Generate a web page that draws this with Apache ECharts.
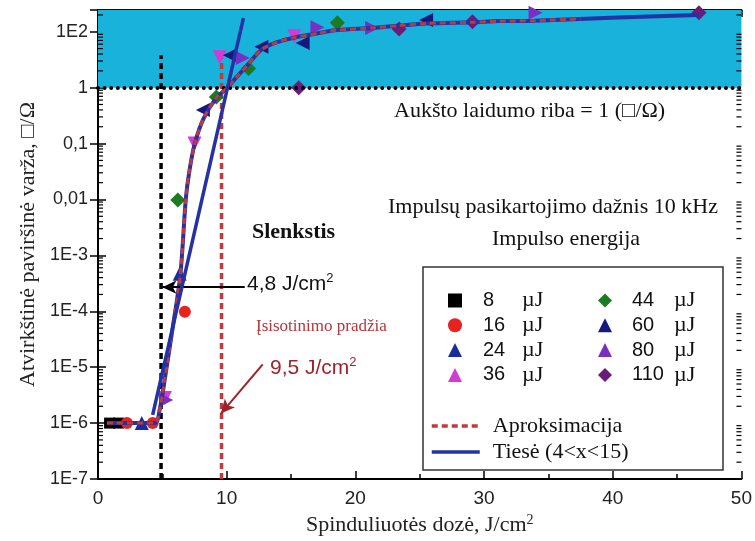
<!DOCTYPE html>
<html>
<head>
<meta charset="utf-8">
<script src="https://cdn.jsdelivr.net/npm/echarts@6/dist/echarts.min.js"></script>
<style>html,body{margin:0;padding:0;background:#fff;}#c{width:755px;height:541px;}</style>
</head>
<body>
<div id="c"></div>
<script>
// ---- data (the tick labelled "1E2" sits at value 10 of the drawn scale) ----
const TICK_LABELS = ['1E-7','1E-6','1E-5','1E-4','1E-3','0,01','0,1','1','1E2'];
const X_TICKS = [0,10,20,30,40,50];
const Y_MIN = 1e-7, Y_MAX = 24.5;

const s8   = [[0.9,1e-6],[1.6,1e-6]];
const s16  = [[2.25,1e-6],[4.25,1e-6],[6.75,9.8e-5]];
const s24  = [[3.4,1e-6],[6.35,4.7e-4]];
const s36  = [[5.2,2.8e-6],[7.5,0.10],[9.45,3.5],[15.25,8.3]];
const s44  = [[6.2,0.0098],[9.2,0.68],[11.7,2.2],[18.6,14.5]];
const s60  = [[8.15,0.40],[10.25,3.8],[12.7,5.4],[15.9,6.3],[25.5,16.2]];
const s80  = [[5.3,2.6e-6],[11.25,3.4],[17.05,12.0],[21.3,11.7],[34.0,21.9]];
const s110 = [[15.6,1.0],[23.4,11.2],[29.1,15.1],[46.7,21.9]];

const fitX = [0.7,4.4,4.8,5.2,5.8,6.4,6.82,7.1,7.52,8.2,9.2,10.05,10.8,11.6,12.7,14,15.3,17,18.6,21.3,23.4,25.5,29.1,31.2,33.9,39.9,46.7];
const fitY = [1e-6,1e-6,1.78e-6,6.3e-6,5e-5,4.5e-4,0.01,0.032,0.1,0.28,0.66,1.0,1.58,2.5,4.8,6.6,7.9,9.3,10.7,11.7,12.9,14.1,14.8,15.5,15.8,17.8,20];
const aprX = [0.7,4.4,4.8,5.2,5.8,6.4,6.82,7.1,7.52,8.2,9.2,10.05,10.8,11.6,12.7,14,15.3,17,18.6,21.3,23.4,25.5,29.1,31.2,33.9,37.5];
const aprY = [1e-6,1e-6,1.78e-6,6.3e-6,5e-5,4.5e-4,0.01,0.032,0.1,0.28,0.66,1.0,1.58,2.5,4.8,6.6,7.9,9.3,10.7,11.7,12.9,14.1,14.8,15.5,15.8,17.0];
const lineX = [4.25, 11.3];
const lineY = [1.4e-6, 17.5];
const thrLine = [[4.9,1e-7],[4.9,3.8]];
const satLine = [[9.6,1e-7],[9.6,3.5]];
const arrowBlack = [[11.4,2.7e-4],[5.0,2.7e-4]];
const arrowRed = [[12.8,1.12e-5],[9.55,1.48e-6]];

// ---- style helpers ----
const SERIF = 'Liberation Serif', SANS = 'Liberation Sans';
const zip = (xs, ys) => xs.map((x,i)=>[x, ys[i]]);
const minorVals = [];
for (let d=-7; d<=1; d++) for (let k=2; k<=9; k++) { const v=k*Math.pow(10,d); if (v<Y_MAX) minorVals.push([0,v]); }

function scatter(name, data, symbol, color, size, rot) {
  return { type:'scatter', name, data, symbol, symbolSize:size, symbolRotate:rot||0,
    itemStyle:{color, opacity:1}, z:3, silent:true };
}
function legendFmt() {
  return function(name){ const n=name.split(' ')[0]; return '{g| }{n|'+n+'}{u|µJ}'; };
}
function legendRich(gap, nw){
  return { g:{width:gap}, n:{fontFamily:SANS, fontSize:20, width:nw, color:'#111'},
    u:{fontFamily:SERIF, fontSize:22, color:'#111'} };
}

const chart = echarts.init(document.getElementById('c'), null, {renderer:'canvas'});
const axisCommon = {
  axisLine:{show:true, lineStyle:{color:'#000', width:2}},
  splitLine:{show:false}
};
chart.setOption({
  animation:false,
  backgroundColor:'#fff',
  grid:{left:98, right:12, top:10, bottom:62, containLabel:false},
  xAxis:[
    Object.assign({type:'value', min:0, max:50, interval:10, position:'bottom',
      axisTick:{show:true, inside:true, length:8, lineStyle:{color:'#000', width:1.5}},
      minorTick:{show:true, splitNumber:2, length:5, lineStyle:{color:'#000', width:1.5}},
      axisLabel:{fontFamily:SANS, fontSize:19, color:'#222', margin:10,
        formatter:v=>X_TICKS.includes(v)?String(v):''},
      name:'{a|Spinduliuotės dozė, J/cm}{s|2}', nameLocation:'middle', nameGap:34,
      nameTextStyle:{rich:{a:{fontFamily:SERIF, fontSize:22, color:'#222'}, s:{fontFamily:SERIF, fontSize:14, color:'#222', padding:[0,0,10,0]}}}
    }, axisCommon),
    Object.assign({type:'value', min:0, max:50, interval:5, position:'top',
      axisTick:{show:true, inside:true, length:7, lineStyle:{color:'#000', width:1.5}},
      axisLabel:{show:false}}, axisCommon)
  ],
  yAxis:[
    Object.assign({type:'log', logBase:10, min:Y_MIN, max:Y_MAX, interval:1, position:'left',
      axisTick:{show:true, inside:true, length:8, lineStyle:{color:'#000', width:1.5}},
      axisLabel:{fontFamily:SANS, fontSize:18, color:'#222', margin:10,
        formatter:function(v){ const l=Math.log10(v); const r=Math.round(l); if (Math.abs(l-r)>1e-6) return ''; return TICK_LABELS[r+7]||''; }},
      name:'Atvirkštinė paviršinė varža, □/Ω', nameLocation:'middle', nameGap:58,
      nameTextStyle:{fontFamily:SERIF, fontSize:22, color:'#222'}
    }, axisCommon),
    Object.assign({type:'log', logBase:10, min:Y_MIN, max:Y_MAX, interval:1, position:'right',
      axisTick:{show:true, inside:true, length:8, lineStyle:{color:'#000', width:1.5}},
      axisLabel:{show:false}}, axisCommon)
  ],
  legend:[
    {data:['8 µJ','16 µJ','24 µJ','36 µJ'], orient:'vertical', left:443, top:284.5, itemWidth:14, itemHeight:14, itemGap:2.8,
      formatter:legendFmt(), textStyle:{rich:legendRich(16,39)}, selectedMode:false},
    {data:['44 µJ','60 µJ','80 µJ','110 µJ'], orient:'vertical', left:593, top:284.5, itemWidth:14, itemHeight:14, itemGap:2.8,
      formatter:legendFmt(), textStyle:{rich:legendRich(15,42)}, selectedMode:false},
    {data:['Aproksimacija','Tiesė (4<x<15)'], orient:'vertical', left:425, top:410, itemWidth:48, itemHeight:14, itemGap:4,
      itemStyle:{opacity:0}, lineStyle:{width:3.5},
      formatter:n=>'{g| }{t|'+n+'}', textStyle:{rich:{g:{width:8}, t:{fontFamily:SERIF, fontSize:22, color:'#111'}}}, selectedMode:false}
  ],
  graphic:[
    {type:'rect', shape:{x:423, y:267, width:300, height:203}, style:{fill:null, stroke:'#333', lineWidth:1.5}, z:10},
    {type:'text', x:252, y:232, style:{text:'Slenkstis', fontFamily:SERIF, fontSize:22, fontWeight:'bold', fill:'#111', verticalAlign:'middle'}, z:10},
    {type:'text', x:247, y:284, style:{text:'{a|4,8 J/cm}{s|2}', verticalAlign:'middle', rich:{a:{fontFamily:SANS, fontSize:21, fill:'#111'}, s:{fontFamily:SANS, fontSize:13, fill:'#111', padding:[0,0,12,0]}}}, z:10},
    {type:'text', x:256, y:327, style:{text:'Įsisotinimo pradžia', fontFamily:SERIF, fontSize:17, fill:'#b3373d', verticalAlign:'middle'}, z:10},
    {type:'text', x:270, y:368, style:{text:'{a|9,5 J/cm}{s|2}', verticalAlign:'middle', rich:{a:{fontFamily:SANS, fontSize:21, fill:'#a0232b'}, s:{fontFamily:SANS, fontSize:13, fill:'#a0232b', padding:[0,0,12,0]}}}, z:10},
    {type:'text', x:394, y:111, style:{text:'Aukšto laidumo riba = 1 (□/Ω)', fontFamily:SERIF, fontSize:22, fill:'#111', verticalAlign:'middle'}, z:10},
    {type:'text', x:388, y:207, style:{text:'Impulsų pasikartojimo dažnis 10 kHz', fontFamily:SERIF, fontSize:22, fill:'#111', verticalAlign:'middle'}, z:10},
    {type:'text', x:566, y:239, style:{text:'Impulso energija', fontFamily:SERIF, fontSize:22, fill:'#111', align:'center', verticalAlign:'middle'}, z:10}
  ],
  series:[
    {type:'line', name:'band', data:[], silent:true, z:1,
      markArea:{silent:true, itemStyle:{color:'#18b2db', opacity:1}, data:[[{yAxis:1},{yAxis:Y_MAX}]]},
      markLine:{silent:true, symbol:['none','none'], label:{show:false},
        lineStyle:{color:'#000', width:4, type:[0.01,6.6], cap:'round'}, data:[{yAxis:1}]}},
    {type:'custom', name:'minorTicks', silent:true, clip:false, z:6, data:minorVals, encode:{x:0,y:1},
      renderItem:function(params, api){
        const v=api.value(1); const l=api.coord([0,v]); const r=api.coord([50,v]);
        return {type:'group', children:[
          {type:'line', shape:{x1:l[0], y1:l[1], x2:l[0]+5, y2:l[1]}, style:{stroke:'#000', lineWidth:1.2}},
          {type:'line', shape:{x1:r[0]-5, y1:r[1], x2:r[0], y2:r[1]}, style:{stroke:'#000', lineWidth:1.2}}
        ]};
      }},
    {type:'line', name:'slenkstis', data:thrLine, symbol:'none', silent:true, z:2,
      lineStyle:{color:'#000', width:3.5, type:[6,4]}},
    {type:'line', name:'isisotinimas', data:satLine, symbol:'none', silent:true, z:2,
      lineStyle:{color:'#c0393d', width:3.5, type:[6,4]}},
    scatter('8 µJ', s8, 'rect', '#000', 11),
    scatter('16 µJ', s16, 'circle', '#e8231f', 12),
    scatter('24 µJ', s24, 'triangle', '#1c2c9c', 14),
    scatter('36 µJ', s36, 'triangle', '#d43bd6', 14, 180),
    scatter('44 µJ', s44, 'diamond', '#1c7a20', 15),
    scatter('60 µJ', s60, 'triangle', '#15197e', 14, 90),
    scatter('80 µJ', s80, 'triangle', '#7a2ec2', 14, -90),
    scatter('110 µJ', s110, 'diamond', '#6b1c7a', 15),
    {type:'line', name:'kreive', data:zip(fitX, fitY), symbol:'none', smooth:0.3, silent:true, z:4,
      lineStyle:{color:'#2432a3', width:4}},
    {type:'line', name:'Aproksimacija', data:zip(aprX, aprY), symbol:'none', smooth:0.3, silent:true, z:5,
      itemStyle:{color:'#c0393d'}, lineStyle:{color:'#c0393d', width:3, type:[6,4]}},
    {type:'line', name:'Tiesė (4<x<15)', data:zip(lineX, lineY), symbol:'none', silent:true, z:5,
      itemStyle:{color:'#2432a3'}, lineStyle:{color:'#2432a3', width:3.5}},
    {type:'line', name:'arrows', data:[], silent:true, z:7,
      markLine:{silent:true, label:{show:false}, symbolSize:[10,14],
        data:[
          [{coord:arrowBlack[0], symbol:'none', lineStyle:{color:'#000', width:2, type:'solid'}},
           {coord:arrowBlack[1], symbol:'arrow', lineStyle:{color:'#000', width:2, type:'solid'}}],
          [{coord:arrowRed[0], symbol:'none', lineStyle:{color:'#9e2229', width:2, type:'solid'}},
           {coord:arrowRed[1], symbol:'arrow', lineStyle:{color:'#9e2229', width:2, type:'solid'}}]
        ]}}
  ]
});
</script>
</body>
</html>
